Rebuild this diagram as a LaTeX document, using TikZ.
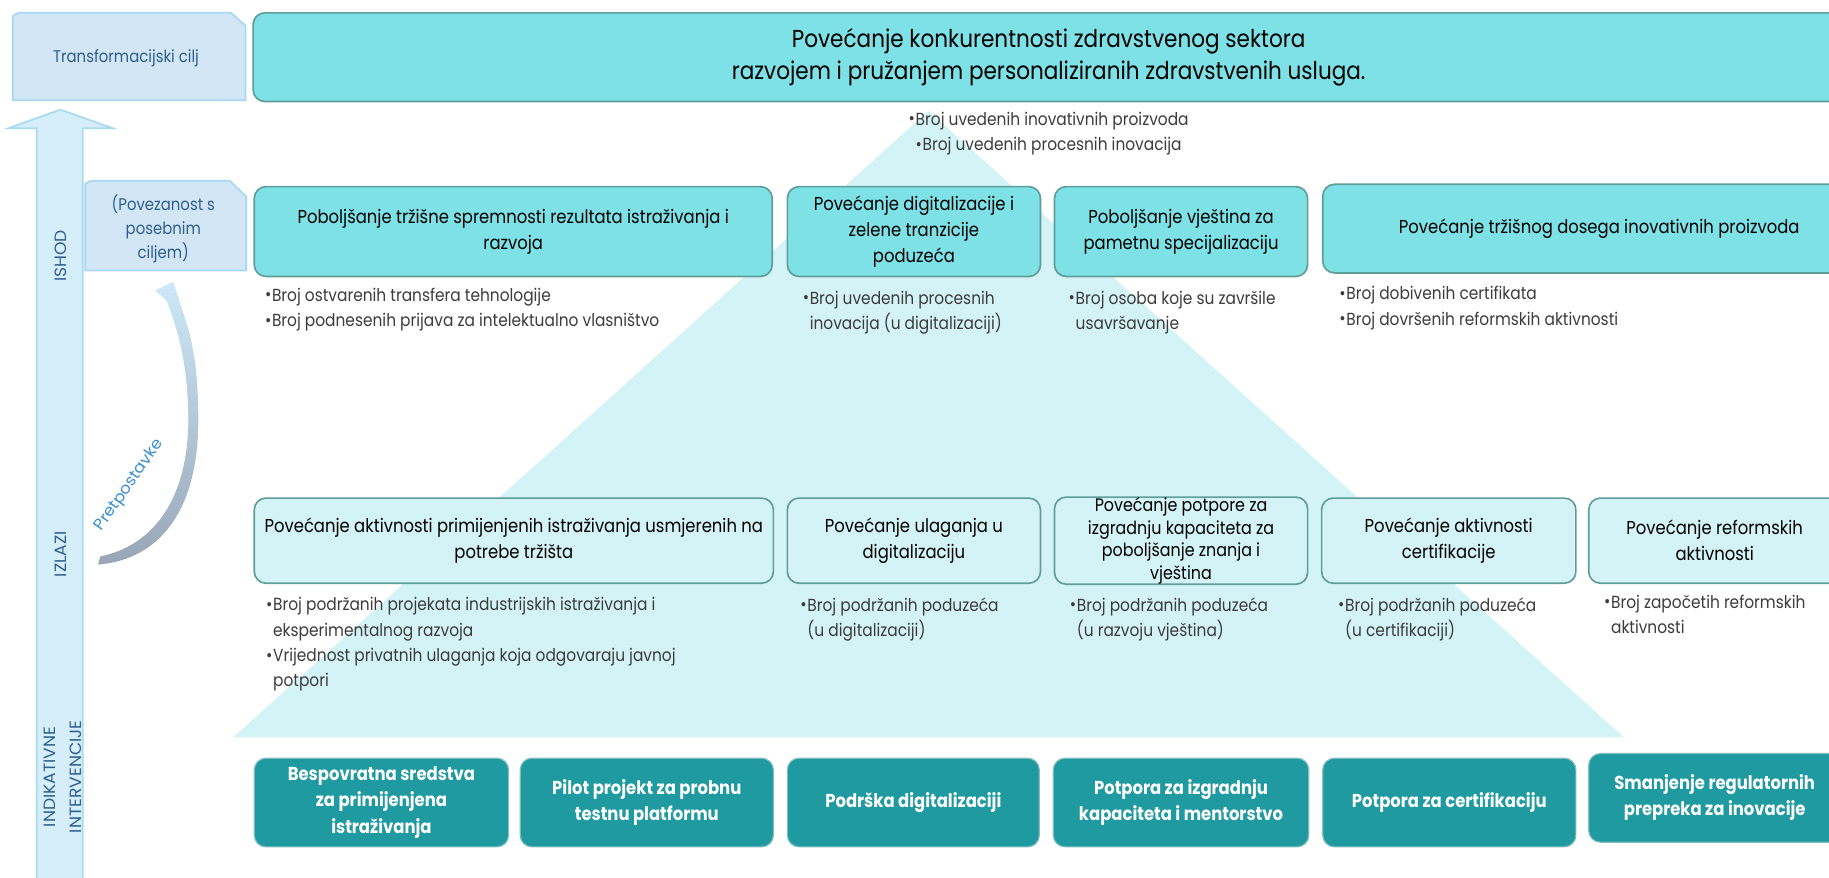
\documentclass[tikz,border=0pt]{standalone}
\usepackage{fontspec}
\setmainfont{Poppins}[FakeStretch=0.88]
\newfontfamily\capfont{Poppins}[FakeStretch=1.05]
\definecolor{goalfill}{HTML}{7DE1E6}
\definecolor{boxline}{HTML}{5F9D98}
\definecolor{outfill}{HTML}{D4F3F6}
\definecolor{trifill}{HTML}{D4F3F6}
\definecolor{intfill}{HTML}{1F9AA0}
\definecolor{intline}{HTML}{7FBDBF}
\definecolor{lblfill}{HTML}{D2E6F5}
\definecolor{lblline}{HTML}{A7D8F0}
\definecolor{arrfill}{HTML}{D6EEFA}
\definecolor{arrline}{HTML}{A8DBF2}
\definecolor{lbltext}{HTML}{2E5E8E}
\definecolor{bultext}{HTML}{3C3C3C}
\definecolor{pretblue}{HTML}{3B8ED3}
\definecolor{pretlight}{HTML}{CDE8F8}
\definecolor{pretmid}{HTML}{BFD9EC}
\definecolor{pretgray}{HTML}{98A6B6}
\newcommand{\bu}{\makebox[6pt][l]{\raisebox{0.05ex}{\fontsize{15}{15}\selectfont\textbullet}}}
\newcommand{\ind}{\hspace*{6pt}}
\tikzset{
  sz/.style 2 args={minimum width=#1pt, minimum height=#2pt},
  gbox/.style={draw=boxline, line width=1.4pt, fill=goalfill, rounded corners=10pt, inner sep=0pt, align=center, text=black, font=\fontsize{16}{22.5}\selectfont},
  obox/.style={gbox, fill=outfill},
  ibox/.style={draw=intline, line width=1pt, fill=intfill, rounded corners=10pt, inner sep=0pt, align=center, text=white, font=\bfseries\fontsize{16}{22.5}\selectfont},
  bul/.style={anchor=west, inner sep=0pt, align=left, text=bultext, font=\fontsize{15}{21.7}\selectfont},
  lbl/.style={inner sep=0pt, align=center, text=lbltext, font=\fontsize{14.5}{20.5}\selectfont},
  vlbl/.style={inner sep=0pt, align=center, text=lbltext, rotate=90, font=\capfont\fontsize{14}{22}\selectfont},
  lblbox/.style={fill=lblfill, draw=lblline, line width=1.5pt},
}
\begin{document}
\begin{tikzpicture}[x=1pt,y=-1pt]
\useasboundingbox (0,0) rectangle (1568,752);
\clip (0,0) rectangle (1568,752);
\fill[white] (0,0) rectangle (1568,752);

% big triangle
\fill[trifill] (796,95) -- (1392,632) -- (200,632) -- cycle;

% upward arrow
\draw[fill=arrfill, draw=arrline, line width=1.5pt]
  (31.5,760) -- (31.5,110) -- (7,110) -- (51.7,94) -- (97,110) -- (71,110) -- (71,760) -- cycle;

% left label boxes
\draw[lblbox] (11,86) -- (11,14) [rounded corners=3pt] -- (14,11) [sharp corners] -- (198,11) -- (210.5,22) -- (210.5,86) -- cycle;
\node[lbl] (tcilj) at (108,50) {Transformacijski cilj};
\draw[lblbox] (73,232) -- (73,158) [rounded corners=3pt] -- (76,155) [sharp corners] -- (197,155) -- (211,168.5) -- (211,232) -- cycle;
\node[lbl] (povez) at (140,196.5) {(Povezanost s\\posebnim\\ciljem)};

% vertical labels
\node[vlbl] (ishod) at (52,219.5) {ISHOD};
\node[vlbl] (izlazi) at (52,475) {IZLAZI};
\node[vlbl] (indik) at (54,666) {INDIKATIVNE\\INTERVENCIJE};

% curved arrow (Pretpostavke)
\shade[top color=pretlight, middle color=pretmid, bottom color=pretgray]
  (84,484) .. controls (135,480) and (170,440) .. (170,360)
  .. controls (170,310) and (163,285) .. (157,268)
  -- (148.6,241.6) -- (133,249) -- (143,258)
  .. controls (152,282) and (161,310) .. (161.5,360)
  .. controls (161,430) and (130,468) .. (86,477) -- cycle;
\node[text=pretblue, rotate=55, inner sep=0pt, font=\capfont\fontsize{13.5}{16}\selectfont] (pret) at (111,416) {Pretpostavke};

% goal
\node[gbox, sz={1364}{76}, font=\fontsize{21}{27.5}\selectfont] (goal) at (899,49)
  {Povećanje konkurentnosti zdravstvenog sektora\\razvojem i pružanjem personaliziranih zdravstvenih usluga.};
\node[bul, anchor=center, align=center] (goalind) at (899,114.5)
  {\bu Broj uvedenih inovativnih proizvoda\\\bu Broj uvedenih procesnih inovacija};

% ISHOD row
\node[gbox, sz={444}{77}] (a) at (440,198.5) {Poboljšanje tržišne spremnosti rezultata istraživanja i\\razvoja};
\node[gbox, sz={217}{77}] (b) at (783.5,198.5) {Povećanje digitalizacije i\\zelene tranzicije\\poduzeća};
\node[gbox, sz={217}{77}] (c) at (1012.5,198.5) {Poboljšanje vještina za\\pametnu specijalizaciju};
\node[gbox, sz={474}{76}] (d) at (1371,196) {Povećanje tržišnog dosega inovativnih proizvoda};

\node[bul] (abul) at (227,265.5) {\bu Broj ostvarenih transfera tehnologije\\\bu Broj podnesenih prijava za intelektualno vlasništvo};
\node[bul] (bbul) at (688,268) {\bu Broj uvedenih procesnih\\\ind inovacija (u digitalizaciji)};
\node[bul] (cbul) at (916,268) {\bu Broj osoba koje su završile\\\ind usavršavanje};
\node[bul] (dbul) at (1148,264) {\bu Broj dobivenih certifikata\\\bu Broj dovršenih reformskih aktivnosti};

% IZLAZI row
\node[obox, sz={445}{73}] (e) at (440.5,463.5) {Povećanje aktivnosti primijenjenih istraživanja usmjerenih na\\potrebe tržišta};
\node[obox, sz={217}{73}] (f) at (783.5,463.5) {Povećanje ulaganja u\\digitalizaciju};
\node[obox, sz={217}{73}, font=\fontsize{15.5}{19.5}\selectfont] (g) at (1012.5,463.5) {Povećanje potpore za\\izgradnju kapaciteta za\\poboljšanje znanja i\\vještina};
\node[obox, sz={218}{73}] (h) at (1242,463.5) {Povećanje aktivnosti\\certifikacije};
\node[obox, sz={216}{73}] (i) at (1470,463.5) {Povećanje reformskih\\aktivnosti};

\node[bul] (ebul) at (228,552.5) {\bu Broj podržanih projekata industrijskih istraživanja i\\\ind eksperimentalnog razvoja\\\bu Vrijednost privatnih ulaganja koja odgovaraju javnoj\\\ind potpori};
\node[bul] (fbul) at (686,531) {\bu Broj podržanih poduzeća\\\ind (u digitalizaciji)};
\node[bul] (gbul) at (917,531) {\bu Broj podržanih poduzeća\\\ind (u razvoju vještina)};
\node[bul] (hbul) at (1147,531) {\bu Broj podržanih poduzeća\\\ind (u certifikaciji)};
\node[bul] (ibul) at (1375,526.5) {\bu Broj započetih reformskih\\\ind aktivnosti};

% interventions row
\node[ibox, sz={218}{76}] (j) at (327,688) {Bespovratna sredstva\\za primijenjena\\istraživanja};
\node[ibox, sz={217}{76}] (k) at (554.5,688) {Pilot projekt za probnu\\testnu platformu};
\node[ibox, sz={216}{76}] (l) at (783,688) {Podrška digitalizaciji};
\node[ibox, sz={219}{76}] (m) at (1012.5,688) {Potpora za izgradnju\\kapaciteta i mentorstvo};
\node[ibox, sz={217}{76}] (n) at (1242.5,688) {Potpora za certifikaciju};
\node[ibox, sz={216}{76}] (o) at (1470,684) {Smanjenje regulatornih\\prepreka za inovacije};
\end{tikzpicture}
\end{document}
